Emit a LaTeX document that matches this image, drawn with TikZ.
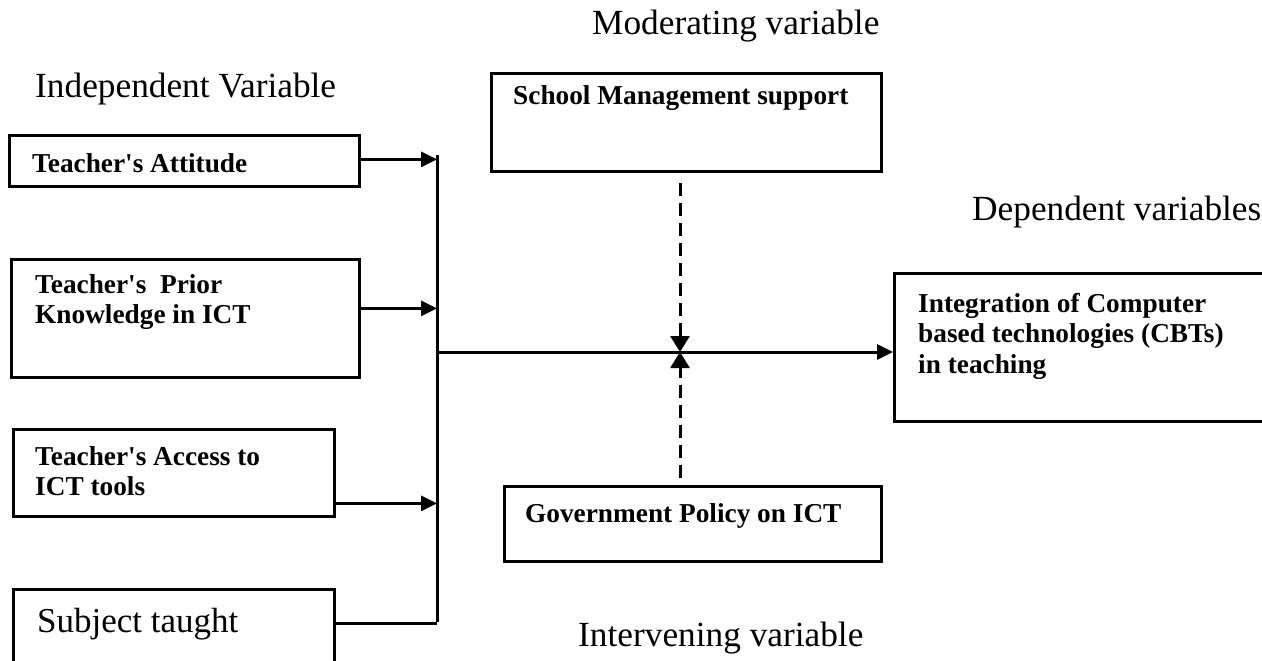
\documentclass[tikz,border=0pt]{standalone}
\usepackage{fontspec}
\setmainfont{Liberation Serif}
\usetikzlibrary{arrows.meta}

\newcommand{\apos}{\textquotesingle}

\begin{document}
\begin{tikzpicture}[x=1pt, y=-1pt,
  box/.style={draw, line width=2.8pt, inner sep=0pt, anchor=north west},
  boxtext/.style={anchor=base west, inner sep=0pt, font=\fontsize{27.3}{30.5}\selectfont\bfseries},
  bigtext/.style={anchor=base west, inner sep=0pt, font=\fontsize{35}{40}\selectfont},
  heading/.style={anchor=base west, inner sep=0pt, font=\fontsize{35.3}{40}\selectfont},
  wire/.style={line width=3pt},
  link/.style={wire, -{Triangle[length=16pt, width=15pt]}},
  dashlink/.style={wire, dash pattern=on 13pt off 7pt, -{Triangle[length=16pt, width=19pt]}}
]
\useasboundingbox (0,0) rectangle (1262,661);

% headings
\node[heading] (hmod) at (592,35) {Moderating variable};
\node[heading] (hind) at (35,97) {Independent Variable};
\node[heading] (hdep) at (972,220) {Dependent variables};
\node[heading] (hint) at (578,646) {Intervening variable};

% independent variables
\node[box, minimum width=350pt, minimum height=51pt] (att) at (8,134) {};
\node[boxtext] (tatt) at (32,172) {Teacher\apos s Attitude};

\node[box, minimum width=348pt, minimum height=118pt] (prior) at (10,258) {};
\node[boxtext] (tprior) at (35,293) {\vtop{\hbox{Teacher\apos s\ \ Prior}\hbox{Knowledge in ICT}}};

\node[box, minimum width=321pt, minimum height=87pt] (acc) at (12,428) {};
\node[boxtext] (tacc) at (35,465) {\vtop{\hbox{Teacher\apos s Access to}\hbox{ICT tools}}};

\node[box, minimum width=321pt, minimum height=90pt] (subj) at (12,588) {};
\node[bigtext] (tsubj) at (37,632) {Subject taught};

% moderating and intervening variables
\node[box, minimum width=390pt, minimum height=98pt] (school) at (490,72) {};
\node[boxtext] (tschool) at (513,105) {School Management support};

\node[box, minimum width=377pt, minimum height=75pt] (gov) at (503,485) {};
\node[boxtext] (tgov) at (525,522) {Government Policy on ICT};

% dependent variable
\node[box, minimum width=380pt, minimum height=148pt] (dep) at (893,272) {};
\node[boxtext] (tdep) at (918,312) {\vtop{\hbox{Integration of Computer}\hbox{based technologies (CBTs)}\hbox{in teaching}}};

% collecting bus
\coordinate (bustop) at (437,155);
\coordinate (busbot) at (437,622);
\coordinate (hub) at (437,352);
\coordinate (meet) at (680,352);
\draw[wire] (bustop) -- (busbot);

\draw[link] ([yshift=1.5pt]att.east) -- ([yshift=1.5pt]att.east -| bustop);
\draw[link] ([yshift=10pt]prior.east) -- ([yshift=10pt]prior.east -| bustop);
\draw[link] ([yshift=-30.5pt]acc.east) -- ([yshift=-30.5pt]acc.east -| bustop);
\draw[wire] ([yshift=11pt]subj.east) -- ([yshift=11pt]subj.east -| bustop);

\draw[link] (hub) -- (hub -| dep.west);

% moderating and intervening influences
\draw[dashlink] ([yshift=-10pt]school.south -| meet) -- (meet);
\draw[dashlink] ([yshift=7pt]gov.north -| meet) -- (meet);
\end{tikzpicture}
\end{document}
